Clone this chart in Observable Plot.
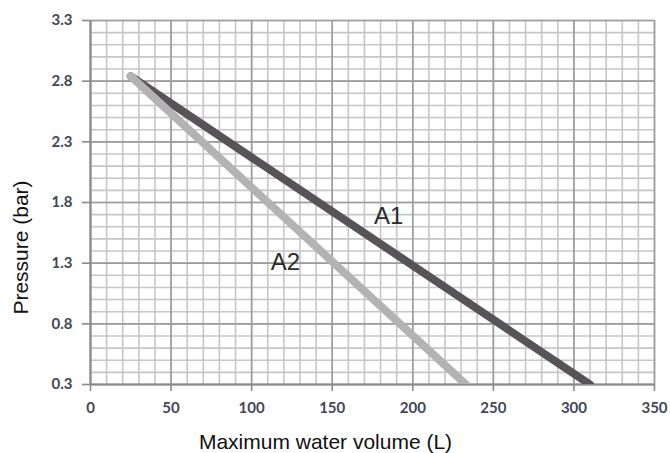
<!DOCTYPE html>
<html>
<head>
<meta charset="utf-8">
<script src="https://cdn.jsdelivr.net/npm/d3@7"></script>
<script src="https://cdn.jsdelivr.net/npm/@observablehq/plot@0.6"></script>
<style>
  html, body { margin: 0; padding: 0; background: #ffffff; }
  #chart { width: 670px; height: 453px; }
</style>
</head>
<body>
<div id="chart"></div>
<script>
// Tick labels
const xTicks = [0, 50, 100, 150, 200, 250, 300, 350];
const yTicks = [0.3, 0.8, 1.3, 1.8, 2.3, 2.8, 3.3];
// Minor grid positions
const xMinor = [0, 10, 20, 30, 40, 50, 60, 70, 80, 90, 100, 110, 120, 130, 140, 150, 160, 170, 180, 190, 200, 210, 220, 230, 240, 250, 260, 270, 280, 290, 300, 310, 320, 330, 340, 350];
const yMinor = [0.3, 0.4, 0.5, 0.6, 0.7, 0.8, 0.9, 1.0, 1.1, 1.2, 1.3, 1.4, 1.5, 1.6, 1.7, 1.8, 1.9, 2.0, 2.1, 2.2, 2.3, 2.4, 2.5, 2.6, 2.7, 2.8, 2.9, 3.0, 3.1, 3.2, 3.3];

// Series
const seriesNames = ["A1", "A2"];
const a1Volume = [25, 310];
const a1Pressure = [2.84, 0.3];
const a2Volume = [25, 233];
const a2Pressure = [2.84, 0.3];

// Series label positions (data coordinates)
const labelVolume = [185, 121];
const labelPressure = [1.69, 1.305];

const a1 = a1Volume.map((v, i) => ({volume: v, pressure: a1Pressure[i]}));
const a2 = a2Volume.map((v, i) => ({volume: v, pressure: a2Pressure[i]}));
const labels = seriesNames.map((name, i) => ({name, volume: labelVolume[i], pressure: labelPressure[i]}));

const tickColor = "#3f4757";

const chart = Plot.plot({
  width: 670,
  height: 453,
  marginLeft: 90,
  marginRight: 16,
  marginTop: 20,
  marginBottom: 69,
  style: {fontFamily: "Lato", fontSize: "15px", fontWeight: "bold", background: "#ffffff", overflow: "visible"},
  x: {domain: [0, 350]},
  y: {domain: [0.3, 3.3]},
  marks: [
    Plot.ruleX(xMinor, {stroke: "#c6c6c6", strokeWidth: 1.6}),
    Plot.ruleY(yMinor, {stroke: "#c6c6c6", strokeWidth: 1.6}),
    Plot.ruleX(xTicks, {stroke: "#9c9c9c", strokeWidth: 1.6}),
    Plot.ruleY(yTicks, {stroke: "#9c9c9c", strokeWidth: 1.6}),
    Plot.ruleX([0], {stroke: "#8a8a8a", strokeWidth: 2}),
    Plot.ruleY([0.3], {stroke: "#8a8a8a", strokeWidth: 2}),
    Plot.axisX(xTicks, {
      label: null, tickSize: 7, tickPadding: 11,
      stroke: "#8a8a8a", strokeWidth: 1.6, fill: tickColor
    }),
    Plot.axisY(yTicks, {
      label: null, tickSize: 8, tickPadding: 10,
      tickFormat: d => d.toFixed(1),
      stroke: "#8a8a8a", strokeWidth: 1.6, fill: tickColor
    }),
    Plot.line(a1, {x: "volume", y: "pressure", stroke: "#575357", strokeWidth: 8, strokeLinecap: "round", clip: true}),
    Plot.line(a2, {x: "volume", y: "pressure", stroke: "#b3b3b3", strokeWidth: 8, strokeLinecap: "round", clip: true}),
    Plot.text(labels, {
      x: "volume", y: "pressure", text: "name",
      fontSize: 24, fontWeight: "normal", fontFamily: "Liberation Sans", fill: "#2b2b2b",
      textAnchor: "middle", lineAnchor: "middle"
    }),
    Plot.text(["Maximum water volume (L)"], {
      frameAnchor: "bottom", dx: -47, dy: 58,
      fontSize: 21, fontWeight: "normal", fontFamily: "Liberation Sans", fill: "#111111",
      textAnchor: "middle", lineAnchor: "middle"
    }),
    Plot.text(["Pressure (bar)"], {
      frameAnchor: "left", dx: -69, dy: 45, rotate: -90,
      fontSize: 21, fontWeight: "normal", fontFamily: "Liberation Sans", fill: "#111111",
      textAnchor: "middle", lineAnchor: "middle"
    })
  ]
});

document.getElementById("chart").appendChild(chart);
</script>
</body>
</html>
